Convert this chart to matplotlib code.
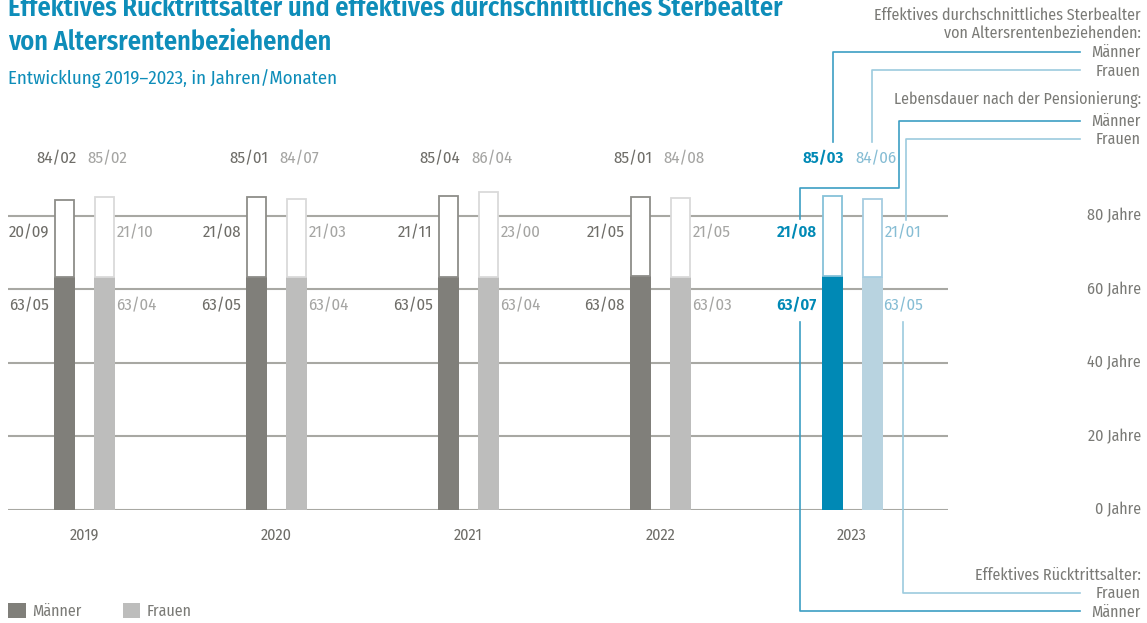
import matplotlib
matplotlib.use('Agg')
import matplotlib.pyplot as plt
from matplotlib.patches import Patch
from matplotlib.transforms import blended_transform_factory
import numpy as np

plt.rcParams['font.family'] = ['Fira Sans Condensed', 'Roboto Condensed', 'DejaVu Sans']

# values as (years, months)
years = ['2019', '2020', '2021', '2022', '2023']
retire_m = [(63, 5), (63, 5), (63, 5), (63, 8), (63, 7)]
retire_f = [(63, 4), (63, 4), (63, 4), (63, 3), (63, 5)]
after_m = [(20, 9), (21, 8), (21, 11), (21, 5), (21, 8)]
after_f = [(21, 10), (21, 3), (23, 0), (21, 5), (21, 1)]
death_m = [(84, 2), (85, 1), (85, 4), (85, 1), (85, 3)]
death_f = [(85, 2), (84, 7), (86, 4), (84, 8), (84, 6)]
y_ticks = [0, 20, 40, 60, 80]

W, H = 1147, 623

GREY_TXT = '#7a7a76'
M_GREY, F_GREY = '#807f7a', '#bdbdbc'
M_BLUE, F_BLUE = '#0089b5', '#b8d3e0'
TITLE_BLUE = '#0e8db9'


def to_years(v):
    return v[0] + v[1] / 12


def fmt(v):
    return '%02d/%02d' % v


def fx(px):
    return px / W


def fy(py):
    return 1 - py / H


fig = plt.figure(figsize=(W / 100, H / 100), dpi=100)
ax = fig.add_axes([fx(8), 113 / H, 940 / W, 370 / H])
ax.set_xlim(-0.40, 4.50)
ax.set_ylim(0, 370 / 3.68)
ax.axis('off')

x = np.arange(len(years))
off = 20 / 191.75
bw = 21 / 191.75
px = 1 / 191.75

rm = [to_years(v) for v in retire_m]
rf = [to_years(v) for v in retire_f]
am = [to_years(v) for v in after_m]
af = [to_years(v) for v in after_f]

last = len(years) - 1
m_fill = [M_BLUE if i == last else M_GREY for i in x]
f_fill = [F_BLUE if i == last else F_GREY for i in x]
m_edge = ['#86c2d9' if i == last else '#8e8d89' for i in x]
f_edge = ['#a6cde0' if i == last else '#dadada' for i in x]
m_txt = [M_BLUE if i == last else '#6e6d68' for i in x]
f_txt = ['#86bdd4' if i == last else '#a5a5a3' for i in x]

for v in y_ticks:
    ax.axhline(v, color='#a8a8a3', lw=1.5, zorder=1)

ax.bar(x - off, rm, bw, color=m_fill, zorder=2)
ax.bar(x + off, rf, bw, color=f_fill, zorder=2)
ax.bar(x - off, am, bw - 2 * px, bottom=rm, facecolor='white', edgecolor=m_edge, lw=1.3, zorder=2)
ax.bar(x + off, af, bw - 2 * px, bottom=rf, facecolor='white', edgecolor=f_edge, lw=1.3, zorder=2)

fs = 12
for i in x:
    wt = 'semibold' if i == last else 'normal'
    ax.text(x[i] - off - bw / 2 - 5 * px, 55.5, fmt(retire_m[i]), ha='right', va='center',
            color=m_txt[i], fontsize=fs, fontweight=wt)
    ax.text(x[i] - off - bw / 2 - 5 * px, 75.5, fmt(after_m[i]), ha='right', va='center',
            color=m_txt[i], fontsize=fs, fontweight=wt)
    ax.text(x[i] - 8 * px, 95.5, fmt(death_m[i]), ha='right', va='center',
            color=m_txt[i], fontsize=fs, fontweight=wt)
    ax.text(x[i] + off + bw / 2 + 1 * px, 55.5, fmt(retire_f[i]), ha='left', va='center',
            color=f_txt[i], fontsize=fs)
    ax.text(x[i] + off + bw / 2 + 2 * px, 75.5, fmt(after_f[i]), ha='left', va='center',
            color=f_txt[i], fontsize=fs)
    ax.text(x[i] + 3 * px, 95.5, fmt(death_f[i]), ha='left', va='center',
            color=f_txt[i], fontsize=fs)
    ax.text(x[i], -6.8, years[i], ha='center', va='center', color='#6e6d68', fontsize=11.5)

# y labels on the right
tr = blended_transform_factory(fig.transFigure, ax.transData)
for v in y_ticks:
    ax.text(fx(1141), v, '%d Jahre' % v, transform=tr, ha='right', va='center',
            color=GREY_TXT, fontsize=11.5, clip_on=False)

# titles
fig.text(fx(8), fy(16), 'Effektives Rücktrittsalter und effektives durchschnittliches Sterbealter',
         color=TITLE_BLUE, fontsize=19, fontweight='semibold', va='baseline')
fig.text(fx(8), fy(50), 'von Altersrentenbeziehenden',
         color=TITLE_BLUE, fontsize=19, fontweight='semibold', va='baseline')
fig.text(fx(8), fy(84), 'Entwicklung 2019–2023, in Jahren/Monaten',
         color=TITLE_BLUE, fontsize=13.5, va='baseline')

# annotation texts on the right
notes = [(15, 'Effektives durchschnittliches Sterbealter'),
         (33, 'von Altersrentenbeziehenden:'),
         (52, 'Männer'), (71, 'Frauen'),
         (99, 'Lebensdauer nach der Pensionierung:'),
         (121, 'Männer'), (139, 'Frauen'),
         (575, 'Effektives Rücktrittsalter:'),
         (593, 'Frauen'), (612, 'Männer')]
for yy, s in notes:
    fig.text(fx(1141), fy(yy), s, ha='right', va='center', color=GREY_TXT, fontsize=11.5)

# leader lines
M_LINE, F_LINE = '#3c9ec4', '#9ccbde'
leaders = [([1080, 833, 833], [52, 52, 142], M_LINE),
           ([1080, 872, 872], [70, 70, 142], F_LINE),
           ([1080, 899, 899, 800, 800], [121, 121, 188, 188, 219], M_LINE),
           ([1080, 906, 906], [139, 139, 220], F_LINE),
           ([800, 800, 1080], [322, 611, 611], M_LINE),
           ([903, 903, 1080], [322, 593, 593], F_LINE)]
for xs, ys, c in leaders:
    fig.add_artist(plt.Line2D([fx(v) for v in xs], [fy(v) for v in ys],
                              transform=fig.transFigure, color=c, lw=1.2))

# legend
handles = [Patch(facecolor=M_GREY, label='Männer'), Patch(facecolor=F_GREY, label='Frauen')]
fig.legend(handles=handles, loc='lower left', bbox_to_anchor=(fx(8), 4 / H), ncol=2,
           frameon=False, fontsize=11.5, handlelength=1.1, handleheight=1.1,
           handletextpad=0.4, columnspacing=2.6, borderpad=0, borderaxespad=0,
           labelcolor=GREY_TXT)

fig.savefig('out.png', dpi=100)
